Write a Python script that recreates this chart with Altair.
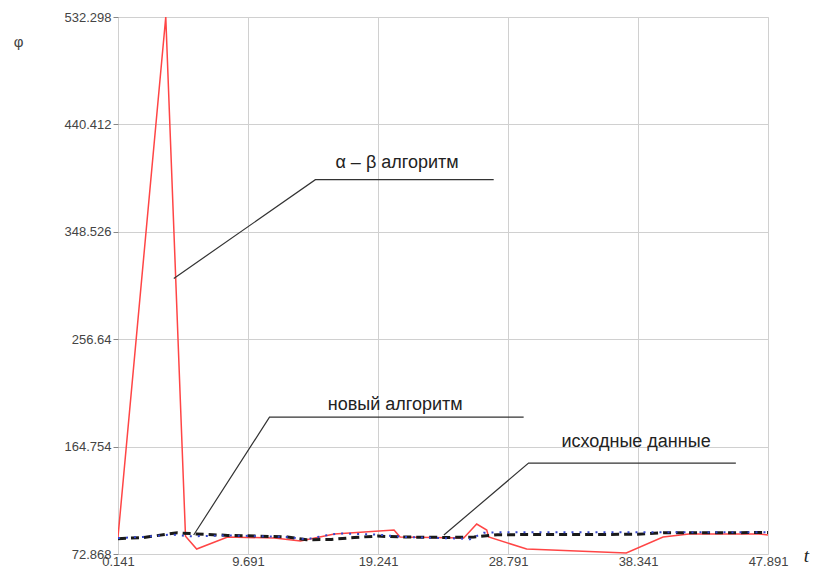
import altair as alt
import pandas as pd

# Axis ticks
x_ticks = [0.141, 9.691, 19.241, 28.791, 38.341, 47.891]
y_ticks = [72.868, 164.754, 256.64, 348.526, 440.412, 532.298]

# α–β algorithm (red)
ab_t = [0.141, 3.65, 5.1, 5.92, 8.19, 11.63, 13.54, 16.03, 20.42, 20.86, 25.54, 26.49, 27.23, 27.37, 30.16, 37.48, 40.18, 42.09, 47.21, 47.891]
ab_v = [87.4, 532.298, 88.0, 77.1, 87.4, 86.5, 84.0, 90.0, 93.4, 87.4, 86.5, 98.5, 93.4, 87.4, 77.1, 73.7, 87.4, 90.0, 90.0, 89.1]

# исходные данные (black dashed)
src_t = [0.141, 2.0, 4.5, 5.9, 8.2, 10.4, 12.6, 14.0, 15.8, 17.5, 19.2, 21.0, 24.5, 26.3, 28.0, 38.3, 40.2, 47.891]
src_v = [86.0, 87.0, 91.0, 90.0, 88.8, 88.2, 87.4, 85.1, 85.3, 87.0, 88.2, 87.4, 87.0, 87.4, 89.4, 89.7, 91.0, 91.2]

# новый алгоритм (blue dash-dot)
new_t = [0.141, 2.0, 4.0, 5.5, 8.2, 12.6, 14.0, 15.5, 16.5, 19.2, 21.0, 25.5, 26.0, 27.0, 28.0, 38.3, 40.2, 47.891]
new_v = [86.5, 87.5, 89.5, 88.0, 88.8, 87.4, 85.5, 89.0, 90.5, 89.5, 87.5, 86.0, 85.5, 91.0, 91.5, 91.5, 91.5, 91.5]

# Annotation leaders: label, text position, leader polyline
labels = ["α – β алгоритм", "новый алгоритм", "исходные данные"]
label_t = [20.64, 20.50, 38.20]
label_v = [407.6, 200.5, 168.5]
leader_t = [[4.24, 14.64, 27.74], [5.70, 11.27, 29.94], [24.08, 30.30, 45.53]]
leader_v = [[308.6, 393.1, 393.1], [89.1, 189.9, 189.9], [89.1, 150.6, 150.6]]

xscale = alt.Scale(domain=[x_ticks[0], x_ticks[-1]], nice=False, zero=False)
yscale = alt.Scale(domain=[y_ticks[0], y_ticks[-1]], nice=False, zero=False)

xaxis = alt.Axis(values=x_ticks, format=".3~f", title="t", titleFontStyle="italic",
                 titleFont="Liberation Serif", titleFontSize=19, titleFontWeight="normal",
                 titleColor="#222",
                 titleAngle=0, titleAlign="center", titleBaseline="middle",
                 titleX=688, titleY=1, ticks=False, domain=False,
                 labelFont="Liberation Sans", labelFontSize=13, labelColor="#444",
                 labelPadding=1, grid=True, gridColor="#d0d0d0", labelFlush=False)
yaxis = alt.Axis(values=y_ticks, format=".3~f", title="φ", titleAngle=0,
                 titleFont="Liberation Sans", titleFontSize=15, titleFontWeight="normal",
                 titleColor="#444", titleX=-100, titleY=24, titleAlign="center",
                 titleBaseline="middle", ticks=True, tickSize=5, tickColor="#888",
                 domain=False, labelFont="Liberation Sans", labelFontSize=13,
                 labelColor="#444", labelPadding=2, grid=True, gridColor="#d0d0d0",
                 labelFlush=False)

ab_df = pd.DataFrame({"t": ab_t, "v": ab_v, "o": range(len(ab_t))})
src_df = pd.DataFrame({"t": src_t, "v": src_v, "o": range(len(src_t))})
new_df = pd.DataFrame({"t": new_t, "v": new_v, "o": range(len(new_t))})

base_red = alt.Chart(ab_df).mark_line(color="#ff4545", strokeWidth=1.5, clip=True).encode(
    x=alt.X("t:Q", scale=xscale, axis=xaxis),
    y=alt.Y("v:Q", scale=yscale, axis=yaxis),
    order="o:Q",
)
black = alt.Chart(src_df).mark_line(color="#1a1a1a", strokeWidth=3, strokeDash=[8, 5], clip=True).encode(
    x=alt.X("t:Q", scale=xscale), y=alt.Y("v:Q", scale=yscale), order="o:Q")
blue = alt.Chart(new_df).mark_line(color="#3344cc", strokeWidth=2, strokeDash=[2, 6], clip=True).encode(
    x=alt.X("t:Q", scale=xscale), y=alt.Y("v:Q", scale=yscale), order="o:Q")

lead_rows = []
for i, (ts, vs) in enumerate(zip(leader_t, leader_v)):
    for j, (t, v) in enumerate(zip(ts, vs)):
        lead_rows.append({"g": i, "o": j, "t": t, "v": v})
lead_df = pd.DataFrame(lead_rows)
leaders = alt.Chart(lead_df).mark_line(color="#333", strokeWidth=1.2).encode(
    x=alt.X("t:Q", scale=xscale), y=alt.Y("v:Q", scale=yscale),
    detail="g:N", order="o:Q")

lab_df = pd.DataFrame({"label": labels, "t": label_t, "v": label_v})
texts = alt.Chart(lab_df).mark_text(font="Liberation Sans", fontSize=18, color="#222",
                                    align="center", baseline="middle").encode(
    x=alt.X("t:Q", scale=xscale), y=alt.Y("v:Q", scale=yscale), text="label:N")

chart = alt.layer(base_red, black, blue, leaders, texts).properties(
    width=650, height=537,
    autosize=alt.AutoSizeParams(type="none"),
    padding={"left": 110, "top": 9, "right": 48, "bottom": 13},
).configure_view(stroke="#888", strokeWidth=2).configure(background="white")

chart.save("out.html", embed_options={"renderer": "svg", "actions": False})
